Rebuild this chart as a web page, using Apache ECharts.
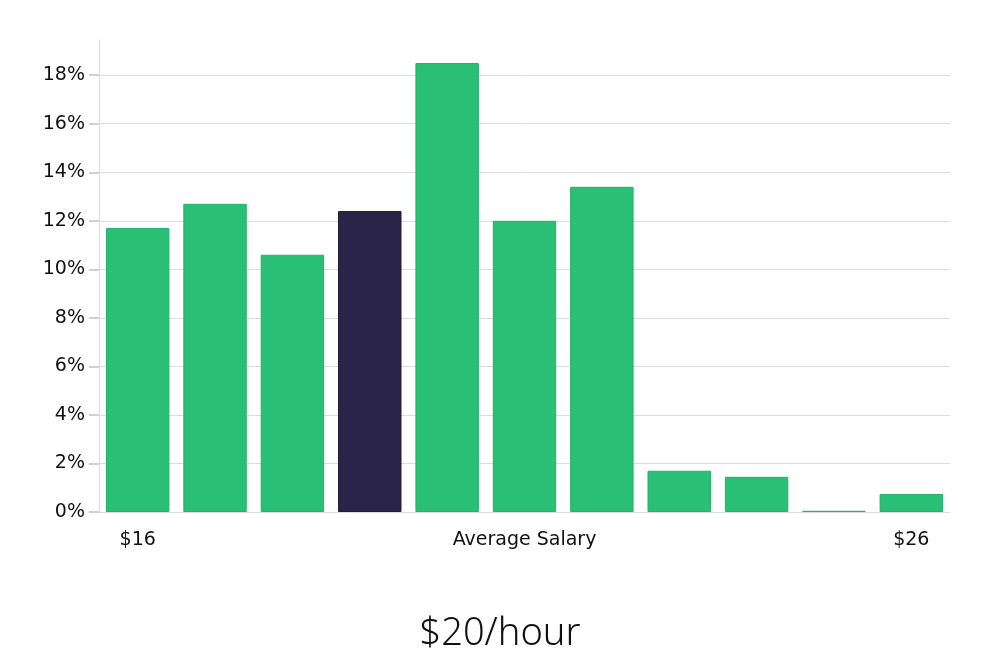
<!DOCTYPE html>
<html>
<head>
<meta charset="utf-8">
<script src="https://cdn.jsdelivr.net/npm/echarts@6/dist/echarts.min.js"></script>
<style>
  html, body { margin: 0; padding: 0; background: #fff; }
  #chart { width: 1000px; height: 660px; }
</style>
</head>
<body>
<div id="chart"></div>
<script>
// salary buckets, $16 .. $26 per hour
const categories = ['$16', '$17', '$18', '$19', '$20', '$21', '$22', '$23', '$24', '$25', '$26']
const tickLabels = ['$16', '', '', '', '', 'Average Salary', '', '', '', '', '$26']
const shares = [11.7, 12.7, 10.6, 12.4, 18.5, 12.0, 13.4, 1.7, 1.45, 0.05, 0.74]
const highlightIndex = 3

const green = '#29bf75'
const dark = '#2a2548'

const chart = echarts.init(document.getElementById('chart'))

const option = {
    animation: false,
    title: {
        text: '$20/hour',
        left: 'center',
        top: 610,
        textStyle: {
            fontFamily: 'Noto Sans',
            fontWeight: 300,
            fontSize: 38,
            color: '#111',
        },
    },
    grid: {
        left: 99,
        right: 50,
        top: 40,
        bottom: 148,
    },
    xAxis: {
        type: 'category',
        data: categories,
        axisLine: { show: false },
        axisTick: { show: false },
        axisLabel: {
            interval: 0,
            margin: 19,
            fontFamily: 'DejaVu Sans',
            fontSize: 19,
            color: '#111',
            formatter: (v, i) => tickLabels[i],
        },
    },
    yAxis: {
        type: 'value',
        min: 0,
        max: 19.45,
        interval: 2,
        axisLine: { show: true, lineStyle: { color: '#dcdcdc', width: 1 } },
        axisTick: { show: true, length: 10, lineStyle: { color: '#d0d0d0', width: 2 } },
        axisLabel: {
            showMaxLabel: false,
            margin: 14,
            fontFamily: 'DejaVu Sans',
            fontSize: 19,
            color: '#111',
            formatter: (v) => v + '%',
        },
        splitLine: {
            showMaxLine: false,
            lineStyle: { color: '#dcdcdc', width: 1 },
        },
    },
    series: [
        {
            type: 'bar',
            barCategoryGap: '18%',
            data: shares.map((v, i) => ({
                value: v,
                itemStyle: {
                    color: i === highlightIndex ? dark : green,
                    borderColor: i === highlightIndex ? '#1e1a3a' : '#22b36b',
                    borderWidth: 1,
                },
            })),
        },
    ],
}

chart.setOption(option)
</script>
</body>
</html>
